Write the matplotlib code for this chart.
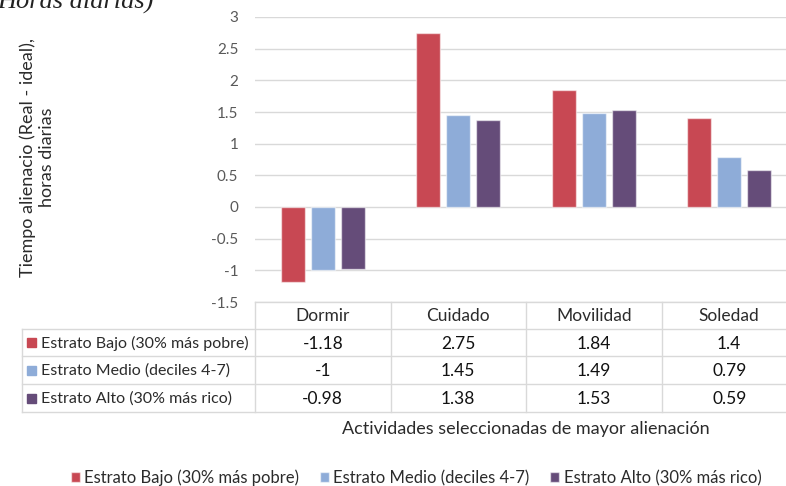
import numpy as np
import matplotlib
matplotlib.use("Agg")
import matplotlib.pyplot as plt
from matplotlib.lines import Line2D
from matplotlib.patches import Rectangle
from matplotlib.transforms import blended_transform_factory

plt.rcParams['font.family'] = ['Lato', 'DejaVu Sans']
plt.rcParams['axes.unicode_minus'] = False

categories = ["Dormir", "Cuidado", "Movilidad", "Soledad"]
series_names = ["Estrato Bajo (30% más pobre)",
                "Estrato Medio (deciles 4-7)",
                "Estrato Alto (30% más rico)"]
bajo = [-1.18, 2.75, 1.84, 1.4]
medio = [-1, 1.45, 1.49, 0.79]
alto = [-0.98, 1.38, 1.53, 0.59]
colors = ["#c84853", "#8eacd8", "#654c79"]

W, H = 786, 486
fig = plt.figure(figsize=(W / 100, H / 100), dpi=100)


def fx(px):
    return px / W


def fy(py):
    return 1 - py / H


# plot area (extends a little past the right edge, as in the source layout)
ax = fig.add_axes([fx(255), fy(302), fx(797 - 255), fy(17) - fy(302)])
ax.set_xlim(0, len(categories))
ax.set_ylim(-1.5, 3)
ax.set_yticks(np.arange(-1.5, 3.01, 0.5))
ax.set_yticklabels([f"{t:g}" for t in np.arange(-1.5, 3.01, 0.5)])
ax.set_xticks([])
ax.tick_params(axis='y', length=0, pad=12, labelsize=11, labelcolor="#595959")
ax.yaxis.grid(True, color="#d9d9d9", lw=1)
ax.set_axisbelow(True)
for s in ax.spines.values():
    s.set_visible(False)

x = np.arange(len(categories)) + 0.5
width = 0.176
step = 0.222
handles = []
for i, (vals, c) in enumerate(zip([bajo, medio, alto], colors)):
    b = ax.bar(x + (i - 1) * step, vals, width=width, color=c,
               edgecolor=(1, 1, 1, 0.55), lw=1, zorder=3, label=series_names[i])
    handles.append(b)

# data table under the plot
tr = blended_transform_factory(ax.transData, fig.transFigure)
grid_c = "#d9d9d9"
rows_y = [302, 329, 356, 384, 412]
lbl_size = 11.5
val_size = 12.5

# horizontal rules
fig.add_artist(Line2D([0, len(categories)], [fy(302)] * 2, transform=tr, color=grid_c, lw=1))
for yy in rows_y[1:]:
    fig.add_artist(Line2D([fx(22), fx(797)], [fy(yy)] * 2, color=grid_c, lw=1))
# vertical rules
for k in range(len(categories)):
    fig.add_artist(Line2D([k, k], [fy(302), fy(412)], transform=tr, color=grid_c, lw=1))
fig.add_artist(Line2D([fx(22)] * 2, [fy(329), fy(412)], color=grid_c, lw=1))

# header
for k, cat in enumerate(categories):
    fig.text(k + 0.5, fy(316), cat, transform=tr, ha='center', va='center',
             fontsize=val_size, color="#2b2b2b")

# rows
for r, (name, vals, c) in enumerate(zip(series_names, [bajo, medio, alto], colors)):
    yc = (rows_y[r + 1] + rows_y[r + 2]) / 2
    fig.add_artist(Rectangle((fx(27), fy(yc + 4.5)), fx(9), fy(yc - 4.5) - fy(yc + 4.5),
                             color=c, transform=fig.transFigure))
    fig.text(fx(41), fy(yc + 1), name, ha='left', va='center', fontsize=lbl_size,
             color="#2b2b2b")
    for k, v in enumerate(vals):
        fig.text(k + 0.5, fy(yc + 1), f"{v:g}", transform=tr, ha='center', va='center',
                 fontsize=val_size, color="#111111")

# axis titles
fig.text(fx(526), fy(429), "Actividades seleccionadas de mayor alienación",
         ha='center', va='center', fontsize=13, color="#2b2b2b")
fig.text(fx(37), fy(157), "Tiempo alienacio (Real - ideal),\nhoras diarias",
         rotation=90, ha='center', va='center', multialignment='center',
         fontsize=13, color="#2b2b2b", linespacing=1.25)

# heading text running off the top edge
fig.text(-0.004, fy(9), "Horas diarias)", ha='left', va='baseline',
         fontsize=19, family='Liberation Serif', style='italic', color="#222222")

fig.legend(handles=handles, loc='center', bbox_to_anchor=(fx(416), fy(478)),
           ncol=3, frameon=False, fontsize=12, handlelength=0.55,
           handleheight=0.55, handletextpad=0.25, columnspacing=1.25,
           labelcolor="#2b2b2b")

fig.savefig("out.png", dpi=100)
